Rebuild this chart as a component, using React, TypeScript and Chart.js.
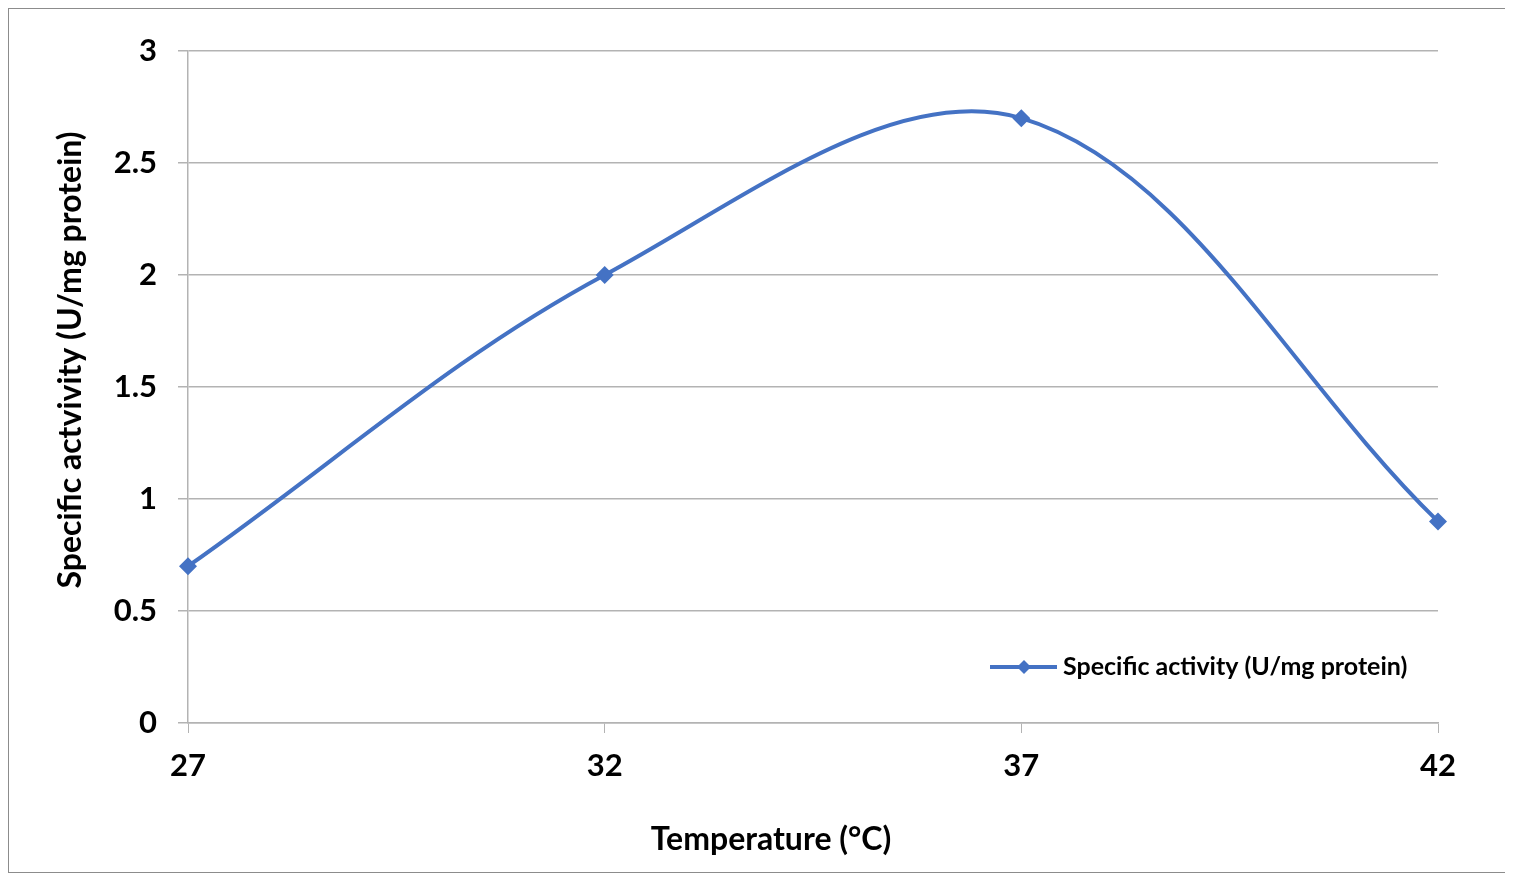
import React, { useEffect, useRef } from "react";
import { Chart, registerables } from "chart.js";

Chart.register(...registerables);

const temperatures = ["27", "32", "37", "42"];
const specificActivity = [0.7, 2.0, 2.7, 0.9];
const seriesLabel = "Specific activity (U/mg protein)";
const xTitle = "Temperature (°C)";
const yTitle = "Specific actvivity (U/mg protein)";

const FONT = "Lato, 'Open Sans', sans-serif";
const LINE = "#4472C4";
const GRID = "#b3b3b3";

const overlayPlugin = {
  id: "overlay",
  afterDraw(chart: any) {
    const ctx = chart.ctx;
    const area = chart.chartArea;
    ctx.save();
    ctx.fillStyle = "#000";
    ctx.textBaseline = "middle";
    ctx.textAlign = "center";
    // x title
    ctx.font = `bold 32px ${FONT}`;
    ctx.fillText(xTitle, 762, 831);
    // y title
    ctx.save();
    ctx.translate(62, 351);
    ctx.rotate(-Math.PI / 2);
    ctx.fillText(yTitle, 0, 0);
    ctx.restore();
    // legend
    const ly = area.bottom - 56;
    const lx0 = area.right - 448;
    ctx.strokeStyle = LINE;
    ctx.lineWidth = 4;
    ctx.beginPath();
    ctx.moveTo(lx0, ly);
    ctx.lineTo(lx0 + 67, ly);
    ctx.stroke();
    ctx.fillStyle = LINE;
    ctx.beginPath();
    const cx = lx0 + 34;
    const r = 7;
    ctx.moveTo(cx, ly - r);
    ctx.lineTo(cx + r, ly);
    ctx.lineTo(cx, ly + r);
    ctx.lineTo(cx - r, ly);
    ctx.closePath();
    ctx.fill();
    ctx.fillStyle = "#000";
    ctx.textAlign = "left";
    ctx.font = `bold 25px ${FONT}`;
    ctx.fillText(seriesLabel, lx0 + 73, ly);
    ctx.restore();
  },
};

export default function App() {
  const ref = useRef<HTMLCanvasElement | null>(null);
  useEffect(() => {
    if (!ref.current) return;
    const chart = new Chart(ref.current, {
      type: "line",
      data: {
        labels: temperatures,
        datasets: [
          {
            label: seriesLabel,
            data: specificActivity,
            borderColor: LINE,
            backgroundColor: LINE,
            borderWidth: 4,
            pointStyle: "rectRot",
            pointRadius: 9,
            pointBorderWidth: 0,
            tension: 0.35,
            fill: false,
          },
        ],
      },
      options: {
        animation: false,
        responsive: true,
        maintainAspectRatio: false,
        layout: { padding: { left: 30, top: 42, right: 67, bottom: 0 } },
        plugins: { legend: { display: false }, tooltip: { enabled: false } },
        scales: {
          x: {
            type: "category",
            offset: false,
            afterFit: (s: any) => {
              s.height = 149;
            },
            grid: {
              drawOnChartArea: false,
              drawTicks: true,
              tickLength: 10,
              color: GRID,
              offset: false,
            },
            border: { color: GRID, width: 1.5 },
            ticks: {
              color: "#000",
              padding: 14,
              font: { family: FONT, size: 31, weight: "bold" },
              maxRotation: 0,
            },
          },
          y: {
            min: 0,
            max: 3,
            afterFit: (s: any) => {
              s.width = 149;
            },
            grid: { color: GRID, lineWidth: 1.5, tickLength: 10 },
            border: { color: GRID, width: 1.5 },
            ticks: {
              stepSize: 0.5,
              color: "#000",
              padding: 21,
              font: { family: FONT, size: 31, weight: "bold" },
              callback: (v: any) => String(Number(v)),
            },
          },
        },
      },
      plugins: [overlayPlugin],
    });
    return () => chart.destroy();
  }, []);
  return (
    <div
      style={{
        width: 1498,
        height: 865,
        border: "1px solid #8c8c8c",
        boxSizing: "border-box",
        background: "#fff",
      }}
    >
      <div style={{ position: "relative", width: 1496, height: 863 }}>
        <canvas ref={ref} />
      </div>
    </div>
  );
}
